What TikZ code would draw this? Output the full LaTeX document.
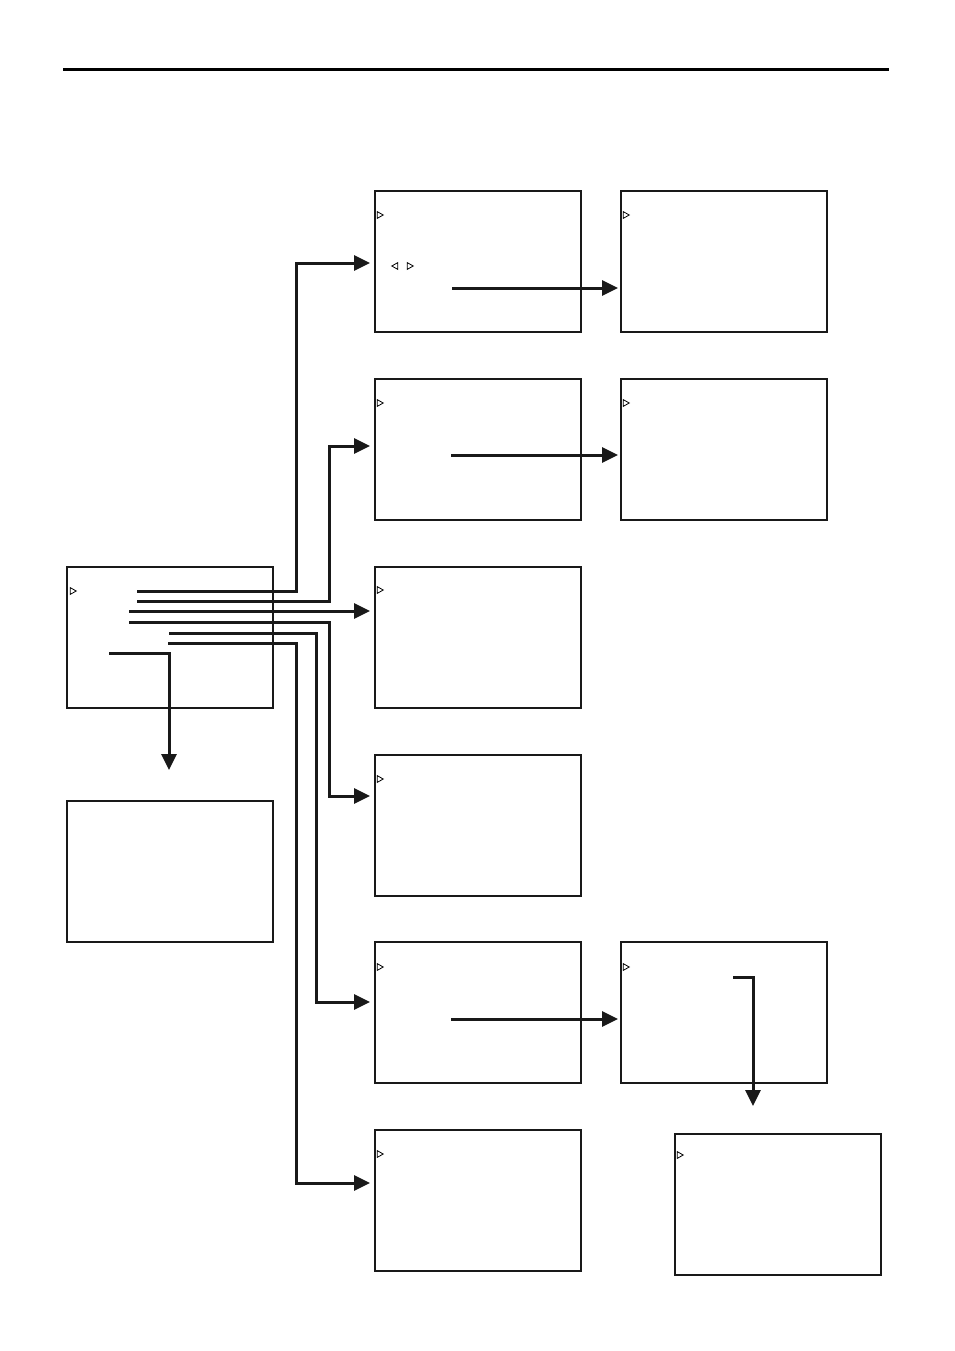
\documentclass[tikz,border=0pt]{standalone}
\usetikzlibrary{arrows.meta}
\begin{document}
\begin{tikzpicture}[x=1pt,y=-1pt,
  screen/.style={draw=black!90, line width=1.6pt, rectangle, minimum width=206pt, minimum height=141pt, inner sep=0pt, anchor=north west, xshift=-0.8pt},
  conn/.style={line width=3pt, draw=black!90, -{Triangle[length=16pt,width=15pt]}},
  rtri/.pic={\draw[line width=0.8pt] (-2.8,-3.4) -- (3.2,0) -- (-2.8,3.4) -- cycle;},
  ltri/.pic={\draw[line width=0.8pt] (2.8,-3.4) -- (-3.2,0) -- (2.8,3.4) -- cycle;}]
\useasboundingbox (0,0) rectangle (954,1351);
\draw[line width=3pt] (63,70) -- (889,70);

\node[screen] (A1) at (375,190) {};
\node[screen] (A2) at (621,190) {};
\node[screen] (B1) at (375,378) {};
\node[screen] (B2) at (621,378) {};
\node[screen] (M) at (67,566) {};
\node[screen] (C) at (375,566) {};
\node[screen] (D) at (375,754) {};
\node[screen] (E) at (67,800) {};
\node[screen] (F1) at (375,941) {};
\node[screen] (F2) at (621,941) {};
\node[screen] (G) at (375,1129) {};
\node[screen] (H) at (675,1133) {};

% markers
\pic at (380,215) {rtri};
\pic at (626,215) {rtri};
\pic at (395,266) {ltri};
\pic at (410,266) {rtri};
\pic at (380,403) {rtri};
\pic at (626,403) {rtri};
\pic at (73,591) {rtri};
\pic at (380,590) {rtri};
\pic at (380,779) {rtri};
\pic at (380,967) {rtri};
\pic at (626,967) {rtri};
\pic at (380,1154) {rtri};
\pic at (680,1155) {rtri};

% start coordinates in main
\coordinate (m1) at (137,591);
\coordinate (m2) at (137,601);
\coordinate (m3) at (129,611);
\coordinate (m4) at (129,622);
\coordinate (m5) at (169,633);
\coordinate (m6) at (168,643);
\coordinate (m7) at (109,653);
% targets
\coordinate (tA1) at (370,263);
\coordinate (tB1) at (370,446);
\coordinate (tC) at (370,611);
\coordinate (tD) at (370,796);
\coordinate (tF1) at (370,1002);
\coordinate (tG) at (370,1183);
\coordinate (tE) at (169,770);

\draw[conn] (m1) -- (296,591) -- (296,263) -- (tA1);
\draw[conn] (m2) -- (329,601) -- (329,446) -- (tB1);
\draw[conn] (m3) -- (tC);
\draw[conn] (m4) -- (329,622) -- (329,796) -- (tD);
\draw[conn] (m5) -- (316,633) -- (316,1002) -- (tF1);
\draw[conn] (m6) -- (296,643) -- (296,1183) -- (tG);
\draw[conn] (m7) -- (169,653) -- (tE);

\coordinate (a1s) at (452,288);
\coordinate (a2t) at (618,288);
\draw[conn] (a1s) -- (a2t);
\coordinate (b1s) at (451,455);
\coordinate (b2t) at (618,455);
\draw[conn] (b1s) -- (b2t);
\coordinate (f1s) at (451,1019);
\coordinate (f2t) at (618,1019);
\draw[conn] (f1s) -- (f2t);
\coordinate (f2s) at (733,977);
\coordinate (ht) at (753,1106);
\draw[conn] (f2s) -- (753,977) -- (ht);
\end{tikzpicture}
\end{document}
